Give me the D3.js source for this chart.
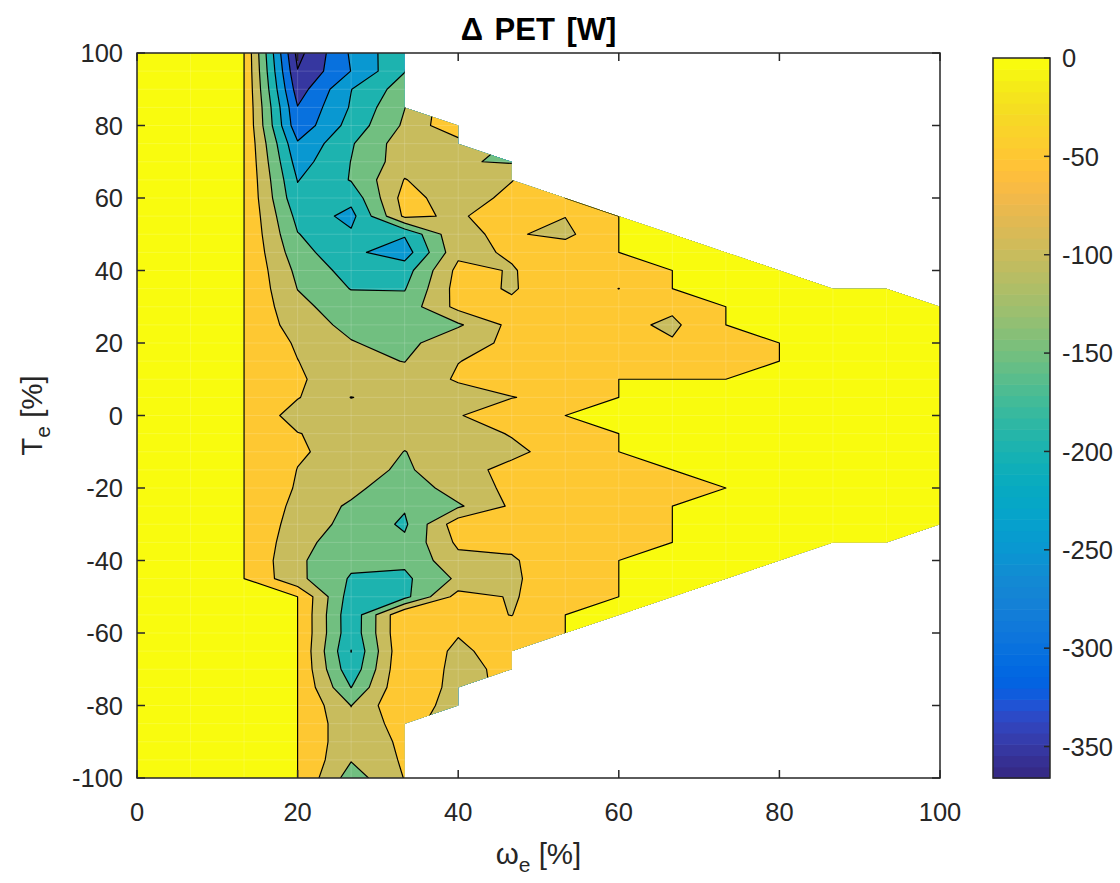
<!DOCTYPE html>
<html><head><meta charset="utf-8">
<script src="https://cdn.jsdelivr.net/npm/d3@7"></script>
<style>
body{margin:0;background:#fff;}
svg{display:block;font-family:"Liberation Sans",Arial,Helvetica,sans-serif;}
</style></head><body>
<svg id="chart" width="1120" height="883"></svg>
<script>
// ---------------- data ----------------
const omega = [0, 6.667, 13.333, 20, 26.667, 33.333, 40, 46.667, 53.333, 60, 66.667, 73.333, 80, 86.667, 93.333, 100];
const torque = [100,95,90,85,80,75,70,65,60,55,50,45,40,35,30,25,20,15,10,5,0,-5,-10,-15,-20,-25,-30,-35,-40,-45,-50,-55,-60,-65,-70,-75,-80,-85,-90,-95,-100];
const levels = [-350, -300, -250, -200, -150, -100, -50, 0];
const xTicks = [0, 20, 40, 60, 80, 100];
const yTicks = [-100, -80, -60, -40, -20, 0, 20, 40, 60, 80, 100];
const cbTicks = [0, -50, -100, -150, -200, -250, -300, -350];
const colorLimits = [-366, 0];
const N = null;
// Delta PET [W], one list per omega column, torque from 100 down to -100 (null = outside operating region)
const dPET = [
 [0,0,0,0,0,0,0,0,0,0, 0,0,0,0,0,0,0,0,0,0, 0,0,0,0,0,0,0,0,0,0, 0,0,0,0,0,0,0,0,0,0,0],
 [0,0,0,0,0,0,0,0,0,0, 0,0,0,0,0,0,0,0,0,0, 0,0,0,0,0,0,0,0,0,0, 0,0,0,0,0,0,0,0,0,0,0],
 [0,0,0,0,0,0,0,0,0,0, 0,0,0,0,0,0,0,0,0,0, 0,0,0,0,0,0,0,0,0,0, 0,0,0,0,0,0,0,0,0,0,0],
 [-366,-348,-325,-298,-285,-244,-222,-202,-188,-165, -148,-130,-112,-101,-88,-75,-57,-49,-45,-47, -75,-48,-45,-51,-55,-64,-73,-83,-92,-88, 0,0,0,0,0,0,0,0,0,0,0],
 [-243,-249,-201,-195,-180,-155,-149,-147,-184,-216, -192,-190,-170,-152,-125,-113,-97,-90,-73,-101, -80,-73,-66,-80,-85,-108,-115,-130,-138,-155, -175,-186,-185,-201,-185,-151,-101,-88,-88,-97,-125],
 [-157,-152,-125,-101,-92,-72,-72,-48,-30,-40, -195,-225,-172,-153,-130,-130,-118,-101,-85,-80, -80,-85,-101,-108,-137,-145,-158,-140,-140,-160, -165,0,0,-3,0,0,0,-27,-39,-43,-48],
 [N,N,N,N,-5,-72,-96,-85,-79,-57, -55,-62,-36,-30,-35,-107,-58,-51,-44,-75, -52,-70,-75,-65,-72,-107,-20,-40,-65,-91, -30,-35,-46,-62,-68,-72,-87,N,N,N,N],
 [N,N,N,N,N,N,-105,-52,-35,-20, -45,-45,-53,-55,-40,-36,-46,-35,-35,-51, -30,-47,-60,-38,-41,-42,-30,-40,-55,-60, -54,-51,-30,-21,-34,N,N,N,N,N,N],
 [N,N,N,N,N,N,N,N,0,-49, -62,-20,-25,-15,-30,-30,-30,-30,-30,-40, 0,-35,-31,-30,-30,-30,-30,-30,-20,-10, -25,0,0,N,N,N,N,N,N,N,N],
 [N,N,N,N,N,N,N,N,N,0, 0,0,-20,-50.5,-30,-35,-30,-30,0,0, 0,0,0,-30,-30,-30,-30,-30,0,0, 0,0,N,N,N,N,N,N,N,N,N],
 [N,N,N,N,N,N,N,N,N,N, 0,0,0,0,-40,-60,-45,-30,0,0, 0,0,0,0,-25,0,0,0,0,0, 0,N,N,N,N,N,N,N,N,N,N],
 [N,N,N,N,N,N,N,N,N,N, N,0,0,0,0,0,-20,-25,0,0, 0,0,0,0,0,0,0,0,0,0, N,N,N,N,N,N,N,N,N,N,N],
 [N,N,N,N,N,N,N,N,N,N, N,N,0,0,0,0,0,0,0,0, 0,0,0,0,0,0,0,0,0,N, N,N,N,N,N,N,N,N,N,N,N],
 [N,N,N,N,N,N,N,N,N,N, N,N,N,0,0,0,0,0,0,0, 0,0,0,0,0,0,0,0,N,N, N,N,N,N,N,N,N,N,N,N,N],
 [N,N,N,N,N,N,N,N,N,N, N,N,N,0,0,0,0,0,0,0, 0,0,0,0,0,0,0,0,N,N, N,N,N,N,N,N,N,N,N,N,N],
 [N,N,N,N,N,N,N,N,N,N, N,N,N,N,0,0,0,0,0,0, 0,0,0,0,0,0,0,N,N,N, N,N,N,N,N,N,N,N,N,N,N]
];

// MATLAB parula colormap (64 entries)
const parula = [[0.2081,0.1663,0.5292],[0.2116,0.1898,0.5777],[0.2123,0.2138,0.6270],[0.2081,0.2386,0.6771],[0.1959,0.2645,0.7279],[0.1707,0.2919,0.7792],[0.1253,0.3242,0.8303],[0.0591,0.3598,0.8683],[0.0117,0.3875,0.8820],[0.0060,0.4086,0.8828],[0.0165,0.4266,0.8786],[0.0329,0.4430,0.8720],[0.0498,0.4586,0.8641],[0.0629,0.4737,0.8554],[0.0723,0.4887,0.8467],[0.0779,0.5040,0.8384],[0.0793,0.5200,0.8312],[0.0749,0.5375,0.8263],[0.0641,0.5570,0.8240],[0.0488,0.5772,0.8228],[0.0343,0.5966,0.8199],[0.0265,0.6137,0.8135],[0.0239,0.6287,0.8038],[0.0231,0.6418,0.7913],[0.0228,0.6535,0.7768],[0.0267,0.6642,0.7607],[0.0384,0.6743,0.7436],[0.0590,0.6838,0.7254],[0.0843,0.6928,0.7062],[0.1133,0.7015,0.6859],[0.1453,0.7098,0.6646],[0.1801,0.7177,0.6424],[0.2178,0.7250,0.6193],[0.2586,0.7317,0.5954],[0.3022,0.7376,0.5712],[0.3482,0.7424,0.5473],[0.3953,0.7459,0.5244],[0.4420,0.7481,0.5033],[0.4871,0.7491,0.4840],[0.5300,0.7491,0.4661],[0.5709,0.7485,0.4494],[0.6099,0.7473,0.4337],[0.6473,0.7456,0.4188],[0.6834,0.7435,0.4044],[0.7184,0.7411,0.3905],[0.7525,0.7384,0.3768],[0.7858,0.7356,0.3633],[0.8185,0.7327,0.3498],[0.8507,0.7299,0.3360],[0.8824,0.7274,0.3217],[0.9139,0.7258,0.3063],[0.9450,0.7261,0.2886],[0.9739,0.7314,0.2666],[0.9938,0.7455,0.2403],[0.9990,0.7653,0.2164],[0.9955,0.7861,0.1967],[0.9880,0.8066,0.1794],[0.9789,0.8271,0.1633],[0.9697,0.8481,0.1475],[0.9626,0.8705,0.1309],[0.9589,0.8949,0.1132],[0.9598,0.9218,0.0948],[0.9661,0.9514,0.0755],[0.9763,0.9831,0.0538]];
const rgb = c => `rgb(${Math.round(c[0]*255)},${Math.round(c[1]*255)},${Math.round(c[2]*255)})`;
function colorFor(v){
  const t = (v - colorLimits[0]) / (colorLimits[1] - colorLimits[0]);
  const idx = Math.max(0, Math.min(63, Math.floor(t * 64)));
  return rgb(parula[idx]);
}

// ---------------- layout ----------------
const P = {left:137, right:940, top:53, bottom:778};
const CB = {left:993, right:1050, top:58, bottom:778};
const ink = "#262626";
const tickFont = 25.5;
const svg = d3.select("#chart");
const x = d3.scaleLinear().domain([0,100]).range([P.left, P.right]);
const y = d3.scaleLinear().domain([-100,100]).range([P.bottom, P.top]);

// ---------------- grid for contouring ----------------
const nCols = omega.length, nRows = torque.length;
const filled = dPET.map(col => {
  const c = col.slice();
  const first = c.findIndex(v => v !== null);
  let last = c.length - 1; while (c[last] === null) last--;
  for (let j = 0; j < first; j++) c[j] = c[first];
  for (let j = last + 1; j < c.length; j++) c[j] = c[last];
  return c;
});
const nx = nCols + 2, ny = nRows + 2;
const grid = new Array(nx * ny);
for (let j = 0; j < ny; j++) for (let i = 0; i < nx; i++) {
  const ci = Math.min(nCols - 1, Math.max(0, i - 1));
  const rj = Math.min(nRows - 1, Math.max(0, j - 1));
  grid[j * nx + i] = filled[ci][rj];
}
const gx = d3.scaleLinear().domain([1.5, nCols + 0.5]).range([omega[0], omega[nCols - 1]]);
const gy = d3.scaleLinear().domain([1.5, nRows + 0.5]).range([torque[0], torque[nRows - 1]]);
const proj = d3.geoTransform({point(px, py){ this.stream.point(x(gx(px)), y(gy(py))); }});
const path = d3.geoPath(proj);

// operating envelope from the null pattern
const tMax = dPET.map(col => torque[col.findIndex(v => v !== null)]);
const tMin = dPET.map(col => { let k = col.length - 1; while (col[k] === null) k--; return torque[k]; });
const step = torque[0] - torque[1];
const env = [[omega[0], tMax[0]]];
for (let i = 0; i < nCols - 1; i++) {
  const a = tMax[i], b = tMax[i + 1];
  if (a > b) { env.push([omega[i], b + step]); env.push([omega[i + 1], b]); }
  else if (a < b) { env.push([omega[i + 1], a + step]); env.push([omega[i + 1], b]); }
  else env.push([omega[i + 1], b]);
}
env.push([omega[nCols - 1], tMin[nCols - 1]]);
for (let i = nCols - 1; i > 0; i--) {
  const a = tMin[i], b = tMin[i - 1];
  if (b < a) { env.push([omega[i - 1], a - step]); env.push([omega[i - 1], b]); }
  else if (b > a) { env.push([omega[i], b - step]); env.push([omega[i - 1], b]); }
  else env.push([omega[i - 1], b]);
}
const defs = svg.append("defs");
defs.append("clipPath").attr("id", "envClip").append("polygon")
  .attr("points", env.map(p => `${x(p[0])},${y(p[1])}`).join(" "));

// ---------------- filled contours ----------------
const dataMin = d3.min(grid);
const thresholds = [dataMin, ...levels];
const contours = d3.contours().size([nx, ny]).thresholds(thresholds)(grid);
const gC = svg.append("g").attr("clip-path", "url(#envClip)");
gC.selectAll("path.fill").data(contours).join("path").attr("class", "fill")
  .attr("d", path).attr("fill", d => colorFor(d.value)).attr("stroke", d => colorFor(d.value)).attr("stroke-width", 0.3);

// faint patch seams (rendering artefact of the original)
const gS = gC.append("g").attr("stroke", "#ffffff").attr("stroke-opacity", 0.16).attr("stroke-width", 1);
torque.forEach(t => gS.append("line").attr("x1", P.left).attr("x2", P.right).attr("y1", y(t)).attr("y2", y(t)));
omega.forEach(o => gS.append("line").attr("x1", x(o)).attr("x2", x(o)).attr("y1", P.top).attr("y2", P.bottom));

gC.selectAll("path.iso").data(contours.filter(d => levels.includes(d.value))).join("path").attr("class", "iso")
  .attr("d", path).attr("fill", "none").attr("stroke", "#000").attr("stroke-width", 1.2)
  .attr("stroke-linejoin", "round").attr("stroke-linecap", "round");

// ---------------- axes ----------------
const gA = svg.append("g");
gA.append("rect").attr("x", P.left).attr("y", P.top).attr("width", P.right - P.left).attr("height", P.bottom - P.top)
  .attr("fill", "none").attr("stroke", ink).attr("stroke-width", 1.5);
const tl = 8;
xTicks.forEach(v => {
  gA.append("line").attr("x1", x(v)).attr("x2", x(v)).attr("y1", P.bottom).attr("y2", P.bottom - tl).attr("stroke", ink).attr("stroke-width", 1.5);
  gA.append("line").attr("x1", x(v)).attr("x2", x(v)).attr("y1", P.top).attr("y2", P.top + tl).attr("stroke", ink).attr("stroke-width", 1.5);
  gA.append("text").attr("x", x(v)).attr("y", P.bottom + 43).attr("text-anchor", "middle")
    .attr("font-size", tickFont).attr("fill", ink).text(v);
});
yTicks.forEach(v => {
  gA.append("line").attr("x1", P.left).attr("x2", P.left + tl).attr("y1", y(v)).attr("y2", y(v)).attr("stroke", ink).attr("stroke-width", 1.5);
  gA.append("line").attr("x1", P.right).attr("x2", P.right - tl).attr("y1", y(v)).attr("y2", y(v)).attr("stroke", ink).attr("stroke-width", 1.5);
  gA.append("text").attr("x", P.left - 14).attr("y", y(v)).attr("dy", "0.36em").attr("text-anchor", "end")
    .attr("font-size", tickFont).attr("fill", ink).text(v);
});
// title
svg.append("text").attr("x", (P.left + P.right) / 2).attr("y", 40).attr("text-anchor", "middle")
  .attr("font-size", 31).attr("font-weight", "bold").attr("word-spacing", 3).attr("fill", "#000").text("Δ PET [W]");
// x label
const xl = svg.append("text").attr("x", (P.left + P.right) / 2).attr("y", 864).attr("text-anchor", "middle")
  .attr("font-size", 29.5).attr("fill", ink);
xl.append("tspan").text("ω");
xl.append("tspan").attr("font-size", 21).attr("dy", 8).text("e");
xl.append("tspan").attr("dy", -8).text(" [%]");
// y label
const yl = svg.append("text").attr("transform", `translate(42,${(P.top + P.bottom) / 2}) rotate(-90)`).attr("text-anchor", "middle")
  .attr("font-size", 29.5).attr("fill", ink);
yl.append("tspan").text("T");
yl.append("tspan").attr("font-size", 21).attr("dy", 8).text("e");
yl.append("tspan").attr("dy", -8).text(" [%]");

// ---------------- colorbar ----------------
const cy = d3.scaleLinear().domain(colorLimits).range([CB.bottom, CB.top]);
const gB = svg.append("g");
const m = parula.length, hStep = (CB.bottom - CB.top) / m;
parula.forEach((c, i) => {
  gB.append("rect").attr("x", CB.left).attr("width", CB.right - CB.left)
    .attr("y", CB.bottom - (i + 1) * hStep).attr("height", hStep + 0.6).attr("fill", rgb(c));
});
gB.append("rect").attr("x", CB.left).attr("y", CB.top).attr("width", CB.right - CB.left).attr("height", CB.bottom - CB.top)
  .attr("fill", "none").attr("stroke", ink).attr("stroke-width", 1.5);
cbTicks.forEach(v => {
  gB.append("line").attr("x1", CB.right).attr("x2", CB.right - 6).attr("y1", cy(v)).attr("y2", cy(v)).attr("stroke", ink).attr("stroke-width", 1.5);
  gB.append("text").attr("x", CB.right + 12).attr("y", cy(v)).attr("dy", "0.36em")
    .attr("font-size", tickFont).attr("fill", ink).text(v);
});
</script>
</body></html>
